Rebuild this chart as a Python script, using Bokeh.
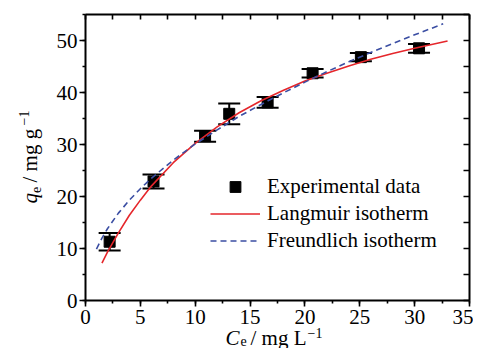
import math
from bokeh.plotting import figure
from bokeh.models import (ColumnDataSource, Whisker, TeeHead, SingleIntervalTicker,
                          LinearAxis, Label, Legend, LegendItem, Range1d)
from bokeh.embed import file_html
from bokeh.resources import INLINE

# ---- data ----
ce = [2.2, 6.2, 10.9, 13.1, 16.6, 20.7, 25.1, 30.4]
qe = [11.3, 22.9, 31.6, 35.9, 38.1, 43.7, 46.8, 48.5]
err = [1.7, 1.35, 1.05, 2.0, 1.05, 0.8, 0.8, 0.85]

lang_c = [1.5, 2, 3, 4, 5, 6, 8, 10, 12, 14, 16, 18, 20, 22, 24, 26, 28, 30, 33]
lang_q = [7.2, 9.3, 13.0, 16.4, 19.3, 22.0, 26.5, 30.2, 33.4, 36.1, 38.4, 40.4,
          42.2, 43.7, 45.1, 46.4, 47.5, 48.5, 49.9]

fr_c = [1.0, 1.5, 2, 3, 4, 5, 6, 8, 10, 12, 14, 16, 18, 20, 22, 24, 26, 28, 30, 32.6]
fr_q = [9.9, 12.0, 13.8, 16.8, 19.3, 21.5, 23.5, 27.0, 30.1, 32.8, 35.4, 37.7,
        39.9, 42.0, 44.0, 45.9, 47.7, 49.4, 51.1, 53.2]

legend_labels = ["Experimental data", "Langmuir isotherm", "Freundlich isotherm"]

FONT = "Liberation Serif"
FS = "21px"
FS_SMALL = "14px"

XMIN, XMAX, YMIN, YMAX = 0, 35, 0, 55
W, H = 473, 348
# pixel box of the data area inside the canvas
BX0, BX1, BY0, BY1 = 85, 469, 14, 300
FXS = (BX1 - BX0) / (XMAX - XMIN)
FYS = (BY1 - BY0) / (YMAX - YMIN)
XS = XMIN - BX0 / FXS
XE = XMAX + (W - BX1) / FXS
YS = YMIN - (H - BY1) / FYS
YE = YMAX + BY0 / FYS

p = figure(width=W, height=H, x_range=Range1d(XS, XE), y_range=Range1d(YS, YE),
           output_backend="svg", toolbar_location=None,
           min_border=0)
p.xgrid.visible = False
p.ygrid.visible = False
p.outline_line_color = None
p.background_fill_color = "white"

def dx(px):
    return XS + px / FXS
def dy(py):
    return YS + (H - py) / FYS

def style_axis(ax):
    ax.axis_line_width = 2
    ax.axis_line_color = "black"
    ax.major_tick_line_width = 1.6
    ax.minor_tick_line_width = 1.6
    ax.major_tick_line_color = "black"
    ax.minor_tick_line_color = "black"
    ax.major_label_text_font = FONT
    ax.major_label_text_font_size = FS
    ax.major_label_text_color = "black"

xa = p.xaxis[0]
xa.ticker = SingleIntervalTicker(interval=5, num_minor_ticks=2)
xa.fixed_location = YMIN
xa.bounds = (XMIN, XMAX)
style_axis(xa)
xa.major_tick_out = 6
xa.major_tick_in = 0
xa.minor_tick_out = 3
xa.minor_tick_in = 0
xa.major_label_standoff = 3

ya = p.yaxis[0]
ya.ticker = SingleIntervalTicker(interval=10, num_minor_ticks=2)
ya.fixed_location = XMIN
ya.bounds = (YMIN, YMAX)
style_axis(ya)
ya.major_tick_out = 6
ya.major_tick_in = 0
ya.minor_tick_out = 3
ya.minor_tick_in = 0
ya.major_label_standoff = 2

top = LinearAxis(ticker=SingleIntervalTicker(interval=2.5, num_minor_ticks=0),
                 fixed_location=YMAX, bounds=(XMIN, XMAX))
style_axis(top)
top.major_tick_in = 5
top.major_tick_out = 0
top.minor_tick_line_color = None
top.major_label_text_color = None
p.add_layout(top, "above")

right = LinearAxis(ticker=SingleIntervalTicker(interval=5, num_minor_ticks=0),
                   fixed_location=XMAX, bounds=(YMIN, YMAX))
style_axis(right)
right.major_tick_in = 6
right.major_tick_out = 0
right.minor_tick_line_color = None
right.major_label_text_color = None
p.add_layout(right, "right")

# ---- error bars and points ----
src = ColumnDataSource(dict(
    x=ce, y=qe,
    upper=[q + e for q, e in zip(qe, err)],
    lower=[q - e for q, e in zip(qe, err)],
))
wh = Whisker(base="x", upper="upper", lower="lower", source=src, dimension="height",
             line_width=2, line_color="black",
             upper_head=TeeHead(size=22, line_width=2, line_color="black"),
             lower_head=TeeHead(size=22, line_width=2, line_color="black"))
p.add_layout(wh)

sc = p.scatter("x", "y", source=src, marker="square", size=11, color="black")
l1 = p.line(lang_c, lang_q, line_color="#e5262b", line_width=1.6)
l2 = p.line(fr_c, fr_q, line_color="#3b4ea3", line_width=1.6, line_dash="6 4")

legend = Legend(items=[LegendItem(label=legend_labels[0], renderers=[sc]),
                       LegendItem(label=legend_labels[1], renderers=[l1]),
                       LegendItem(label=legend_labels[2], renderers=[l2])],
                location=(210, H - 254), padding=0, margin=0, spacing=0,
                glyph_width=50, glyph_height=27, label_height=27,
                label_standoff=7, border_line_color=None,
                background_fill_alpha=0,
                label_text_font=FONT, label_text_font_size=FS,
                label_text_color="black")
p.add_layout(legend)

# ---- axis titles (rich text built from pieces, anchored at their middle) ----
def lab(x, y, text, size=FS, style="normal", angle=0):
    p.add_layout(Label(x=x, y=y, text=text, text_font=FONT, text_font_size=size,
                       text_font_style=style, text_color="black",
                       text_align="left", text_baseline="middle",
                       angle=angle))

# x title: C_e / mg L^-1
lab(dx(225), dy(337), "C", style="italic")
lab(dx(240), dy(340.5), "e", size=FS_SMALL)
lab(dx(250), dy(337), "/ mg L")
lab(dx(307), dy(332), "\u22121", size=FS_SMALL)

# y title (rotated): q_e / mg g^-1
A = math.pi / 2
lab(dx(29), dy(203), "q", style="italic", angle=A)
lab(dx(35), dy(192.5), "e", size=FS_SMALL, angle=A)
lab(dx(29), dy(182), "/ mg g", angle=A)
lab(dx(23.5), dy(125), "\u22121", size=FS_SMALL, angle=A)

open("out.html", "w").write(file_html(p, INLINE))
